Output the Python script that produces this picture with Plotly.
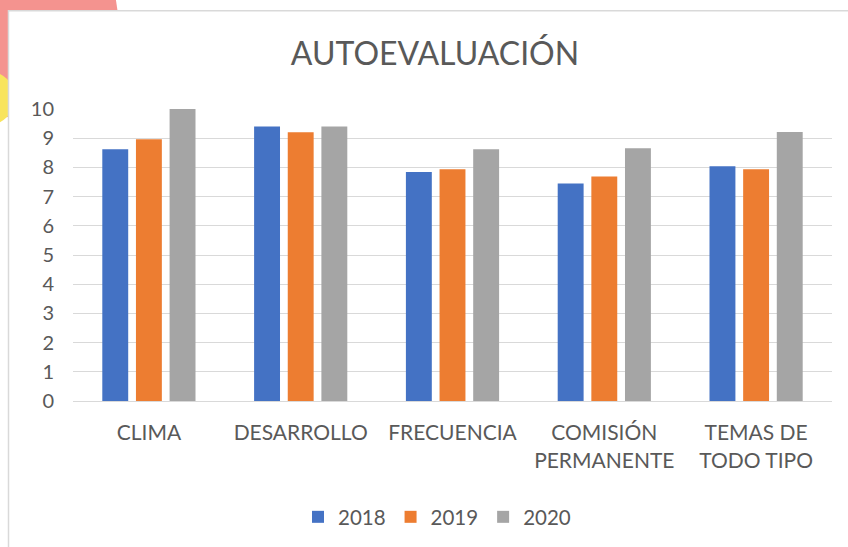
import plotly.graph_objects as go

categories = ["CLIMA", "DESARROLLO", "FRECUENCIA", "COMISIÓN<br>PERMANENTE", "TEMAS DE<br>TODO TIPO"]
series_names = ["2018", "2019", "2020"]
values_2018 = [8.62, 9.40, 7.84, 7.45, 8.04]
values_2019 = [8.96, 9.20, 7.94, 7.69, 7.94]
values_2020 = [10.0, 9.40, 8.62, 8.66, 9.21]
colors = ["#4472C4", "#ED7D31", "#A5A5A5"]
y_ticks = list(range(0, 11))

W, H = 848, 547
L, R, T, B = 73, 16, 109, 145
PW, PH = W - L - R, H - T - B

def px_x(p):
    return (p - L) / PW

def px_y(p):
    return (H - B - p) / PH

FONT = "Lato, 'Open Sans', sans-serif"
TXT = "#595959"

fig = go.Figure()
for name, vals, c in zip(series_names, [values_2018, values_2019, values_2020], colors):
    fig.add_trace(go.Bar(name=name, x=categories, y=vals, marker=dict(color=c, line=dict(width=0))))

shapes = [
    dict(type="circle", xref="paper", yref="paper",
         x0=px_x(-78), x1=px_x(118), y0=px_y(118), y1=px_y(-78),
         fillcolor="#F4938F", line=dict(width=0), layer="below"),
    dict(type="circle", xref="paper", yref="paper",
         x0=px_x(-39), x1=px_x(15), y0=px_y(125), y1=px_y(71),
         fillcolor="#F8E45C", line=dict(width=0), layer="below"),
    dict(type="rect", xref="paper", yref="paper",
         x0=px_x(8.5), x1=px_x(870), y0=px_y(570), y1=px_y(10.5),
         fillcolor="white", line=dict(color="#D9D9D9", width=1.5), layer="below"),
]

fig.update_layout(
    width=W, height=H,
    margin=dict(l=L, r=R, t=T, b=B),
    paper_bgcolor="white", plot_bgcolor="rgba(0,0,0,0)",
    barmode="group", bargap=0.335, bargroupgap=0.23,
    font=dict(family=FONT, color=TXT, size=21),
    title=dict(text="AUTOEVALUACIÓN", x=0.513, xanchor="center", y=1 - 54 / H, yanchor="middle",
               yref="container", font=dict(size=32, color=TXT, family=FONT)),
    legend=dict(orientation="h", x=px_x(437), xanchor="center", y=px_y(517), yanchor="middle",
                font=dict(size=20.5, color=TXT), itemwidth=30, traceorder="normal"),
    shapes=shapes,
)
fig.update_yaxes(range=[0, 10], tickvals=y_ticks, showgrid=True, gridcolor="#D9D9D9", gridwidth=1.3,
                 zeroline=False, showline=False, ticks="", ticklabelstandoff=18,
                 tickfont=dict(size=20, color=TXT), fixedrange=True)
fig.update_xaxes(showgrid=False, showline=True, linecolor="#D9D9D9", linewidth=1.3, ticks="",
                 ticklabelstandoff=13, tickfont=dict(size=21, color=TXT), fixedrange=True)

fig.write_html("out.html", config={"displayModeBar": False},
               post_script="document.body.style.margin='0';")
